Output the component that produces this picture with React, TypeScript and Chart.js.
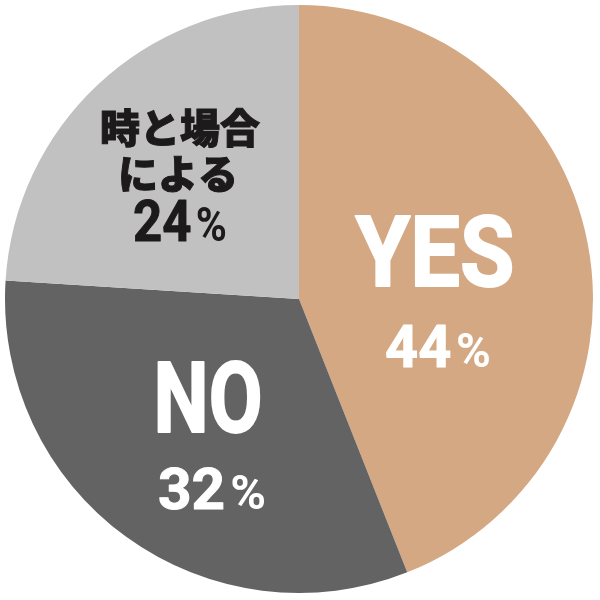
import React, { useEffect, useRef } from "react";
import { Chart, type ChartConfiguration, type Plugin, registerables } from "chart.js";

Chart.register(...registerables);

const labels = ["YES", "NO", "時と場合による"];
const values = [44, 32, 24];
const colors = ["#D4A882", "#646364", "#C1C1C1"];

const sans = 'Roboto, "Liberation Sans", Arial, sans-serif';
const jp = '"Noto Sans CJK JP", "Noto Sans CJK SC", sans-serif';

// the original uses a bold condensed face, so squeeze the text and thicken it a bit with a stroke
function drawSqueezed(ctx: CanvasRenderingContext2D, text: string, cx: number, y: number, size: number, width: number, stroke: number) {
  ctx.font = `bold ${size}px ${sans}`;
  const w = ctx.measureText(text).width;
  ctx.save();
  ctx.translate(cx, y);
  ctx.scale(width / w, 1);
  ctx.textAlign = "center";
  ctx.textBaseline = "alphabetic";
  ctx.lineJoin = "round";
  ctx.lineWidth = stroke;
  ctx.strokeStyle = ctx.fillStyle;
  ctx.fillText(text, 0, 0);
  if (stroke > 0) ctx.strokeText(text, 0, 0);
  ctx.restore();
}

// number with a smaller percent sign, squeezed to width and centred on cx
function drawPercent(ctx: CanvasRenderingContext2D, value: number, cx: number, y: number, size: number, width: number, stroke: number) {
  const num = String(value);
  const pSize = Math.round(size * 0.82);
  const gap = 5;
  ctx.font = `bold ${size}px ${sans}`;
  const w1 = ctx.measureText(num).width;
  ctx.font = `bold ${pSize}px ${sans}`;
  const w2 = ctx.measureText("%").width;
  const total = w1 + gap + w2;
  ctx.save();
  ctx.translate(cx, y);
  ctx.scale(width / total, 1);
  ctx.textAlign = "left";
  ctx.textBaseline = "alphabetic";
  ctx.lineJoin = "round";
  ctx.lineWidth = stroke;
  ctx.strokeStyle = ctx.fillStyle;
  ctx.font = `bold ${size}px ${sans}`;
  ctx.fillText(num, -total / 2, 0);
  if (stroke > 0) ctx.strokeText(num, -total / 2, 0);
  ctx.font = `bold ${pSize}px ${sans}`;
  ctx.fillText("%", -total / 2 + w1 + gap, 0);
  ctx.restore();
}

const sliceLabels: Plugin<"pie"> = {
  id: "sliceLabels",
  afterDatasetsDraw(chart) {
    const { ctx } = chart;
    ctx.save();
    // YES
    ctx.fillStyle = "#ffffff";
    drawSqueezed(ctx, labels[0], 435, 286, 99, 159, 2);
    drawPercent(ctx, values[0], 438, 367, 60, 106, 1);
    // NO
    ctx.fillStyle = "#ffffff";
    drawSqueezed(ctx, labels[1], 208, 432, 99, 109, 2);
    drawPercent(ctx, values[1], 212, 509, 58, 108, 1);
    // 時と場合による
    ctx.fillStyle = "#1c1a1a";
    ctx.strokeStyle = "#1c1a1a";
    ctx.lineWidth = 1;
    ctx.font = `900 40px ${jp}`;
    ctx.textAlign = "center";
    ctx.textBaseline = "middle";
    ctx.fillText(labels[2].slice(0, 4), 180, 128);
    ctx.strokeText(labels[2].slice(0, 4), 180, 128);
    ctx.fillText(labels[2].slice(4), 178, 174);
    ctx.strokeText(labels[2].slice(4), 178, 174);
    drawPercent(ctx, values[2], 180, 241, 58, 94, 1);
    ctx.restore();
  },
};

export default function App() {
  const chartRef = useRef<HTMLCanvasElement | null>(null);
  const chartInstance = useRef<Chart | null>(null);

  useEffect(() => {
    if (!chartRef.current) return;
    if (chartInstance.current) {
      chartInstance.current.destroy();
    }

    const config: ChartConfiguration<"pie"> = {
      type: "pie",
      data: {
        labels,
        datasets: [
          {
            data: values,
            backgroundColor: colors,
            borderWidth: 0,
          },
        ],
      },
      options: {
        responsive: false,
        animation: false,
        layout: { padding: { left: 5, right: 7, top: 5, bottom: 7 } },
        plugins: {
          legend: { display: false },
          tooltip: { enabled: false },
        },
      },
      plugins: [sliceLabels],
    };

    chartInstance.current = new Chart(chartRef.current, config);

    return () => {
      if (chartInstance.current) {
        chartInstance.current.destroy();
        chartInstance.current = null;
      }
    };
  }, []);

  return (
    <div style={{ position: "fixed", left: 0, top: 0, width: 600, height: 600, background: "#ffffff" }}>
      <canvas ref={chartRef} width={600} height={600} style={{ width: 600, height: 600 }} />
    </div>
  );
}
